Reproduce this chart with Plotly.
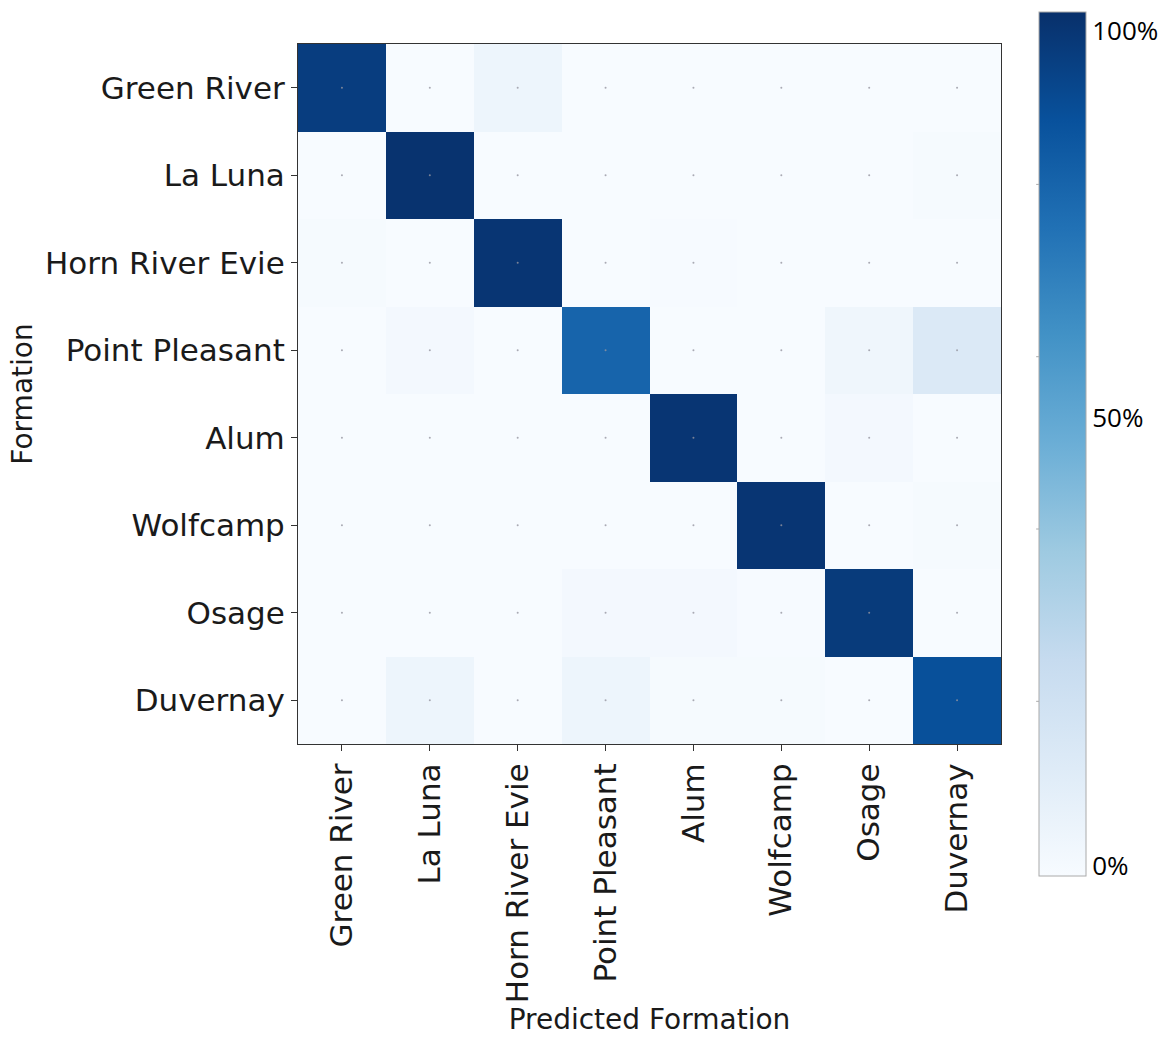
import plotly.graph_objects as go

# Formation classes (true rows / predicted columns)
formations = ["Green River", "La Luna", "Horn River Evie", "Point Pleasant",
              "Alum", "Wolfcamp", "Osage", "Duvernay"]

# Row-normalised confusion matrix (fraction of each true formation)
row_green_river = [0.95, 0.00, 0.05, 0.00, 0.00, 0.00, 0.00, 0.00]
row_la_luna     = [0.00, 0.99, 0.00, 0.00, 0.00, 0.00, 0.00, 0.01]
row_horn_river  = [0.01, 0.00, 0.98, 0.00, 0.005, 0.00, 0.00, 0.00]
row_pt_pleasant = [0.00, 0.02, 0.00, 0.80, 0.00, 0.00, 0.04, 0.14]
row_alum        = [0.00, 0.00, 0.00, 0.00, 0.98, 0.00, 0.02, 0.00]
row_wolfcamp    = [0.00, 0.00, 0.00, 0.00, 0.00, 0.98, 0.00, 0.01]
row_osage       = [0.00, 0.00, 0.00, 0.02, 0.02, 0.005, 0.96, 0.00]
row_duvernay    = [0.00, 0.05, 0.00, 0.05, 0.01, 0.01, 0.00, 0.88]

matrix = [row_green_river, row_la_luna, row_horn_river, row_pt_pleasant,
          row_alum, row_wolfcamp, row_osage, row_duvernay]

# Colour bar labels
cbar_vals = [0.012, 0.53, 0.978]
cbar_text = ["0%", "50%", "100%"]

blues = [[0.0, "#f7fbff"], [0.125, "#deebf7"], [0.25, "#c6dbef"],
         [0.375, "#9ecae1"], [0.5, "#6baed6"], [0.625, "#4292c6"],
         [0.75, "#2171b5"], [0.875, "#08519c"], [1.0, "#08306b"]]

fig = go.Figure()
fig.add_trace(go.Heatmap(
    z=matrix, x=formations, y=formations,
    zmin=0, zmax=1, colorscale=blues,
    hovertemplate="%{y} → %{x}: %{z:.0%}<extra></extra>",
    colorbar=dict(
        thickness=47, thicknessmode="pixels",
        len=864, lenmode="pixels",
        x=1.054, xanchor="left", xpad=0,
        y=1.0456, yanchor="top", ypad=0,
        outlinecolor="#aaaaaa", outlinewidth=1,
        tickvals=cbar_vals, ticktext=cbar_text, ticks="", ticklen=0,
        tickfont=dict(family="Open Sans", size=26, color="black"),
    ),
))

# tiny centre marks in every cell
cx, cy = [], []
for r in formations:
    for c in formations:
        cx.append(c)
        cy.append(r)
fig.add_trace(go.Scatter(
    x=cx, y=cy, mode="markers", hoverinfo="skip", showlegend=False,
    marker=dict(size=2, color="rgba(150,150,160,0.8)"),
))

# short tick marks on the left edge of the colour bar
for v in [0.2, 0.4, 0.6, 0.8]:
    ypx = 876 - v * 864
    yp = (746 - ypx) / 702
    fig.add_shape(type="line", xref="paper", yref="paper",
                  x0=1.050, x1=1.054, y0=yp, y1=yp,
                  line=dict(color="#aaaaaa", width=1))

axis_font = dict(family="DejaVu Sans", size=31, color="#1a1a1a")
title_font = dict(family="DejaVu Sans", size=28, color="#1a1a1a")
fig.update_xaxes(
    tickangle=-90, tickfont=axis_font, ticks="outside", ticklen=6,
    tickcolor="#333", showline=True, linecolor="#333", linewidth=1,
    mirror=True, showgrid=False, zeroline=False,
    title=dict(text="Predicted Formation", font=title_font, standoff=4),
)
fig.update_yaxes(
    autorange="reversed", tickfont=axis_font, ticks="outside", ticklen=6,
    tickcolor="#333", showline=True, linecolor="#333", linewidth=1,
    mirror=True, showgrid=False, zeroline=False,
    title=dict(text="Formation", font=title_font, standoff=4),
)

fig.update_layout(
    width=1165, height=1039,
    margin=dict(l=298, r=163, t=44, b=293),
    plot_bgcolor="white", paper_bgcolor="white",
    showlegend=False,
)

fig.write_html("out.html")
